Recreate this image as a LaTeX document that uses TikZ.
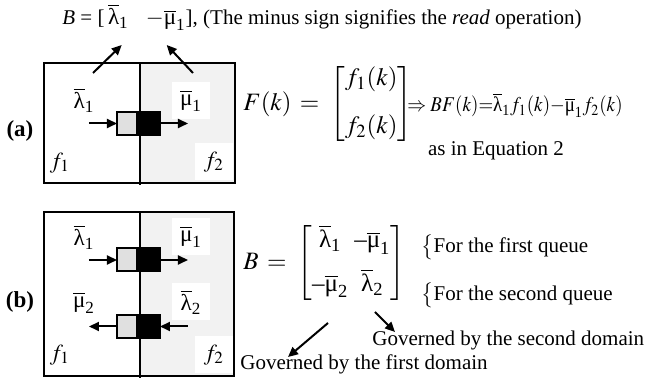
\documentclass[tikz,border=0pt]{standalone}
\usepackage{amsmath}
\usepackage{mathptmx}
\usepackage{fontspec}
\setmainfont{Liberation Serif}
\usetikzlibrary{arrows.meta}
\newcommand\barlam[1]{\ensuremath{\overline{\text{λ}}_{\text{#1}}}}
\newcommand\barmu[1]{\ensuremath{\overline{\text{μ}}_{\text{#1}}}}
\newcommand\ndash{\text{–}}
\begin{document}
\begin{tikzpicture}[x=0.5pt,y=-0.5pt,>={Triangle[length=5pt,width=4.5pt]},every node/.style={font=\fontsize{10.5}{12.6}\selectfont,inner sep=0pt},frame/.style={line width=1.25pt},half/.style={fill=black!5},patch/.style={fill=white,minimum width=19pt,minimum height=18.5pt},qlight/.style={draw,line width=1pt,fill=black!12,minimum width=10pt,minimum height=11.5pt,outer sep=0pt},qdark/.style={draw,line width=1pt,fill=black,minimum width=11.5pt,minimum height=11.5pt,outer sep=0pt,anchor=west},arr/.style={->,line width=1pt},lbl/.style={font=\fontsize{11.5}{13}\selectfont},big/.style={font=\fontsize{12.5}{15}\selectfont\setlength\arraycolsep{1.5pt},anchor=west}]
\useasboundingbox (0,0) rectangle (650,379);
% (a) one queue
\fill[half] (140,63) rectangle (235,183);
\node[lbl,patch] (ma1) at (191,101) {\barmu1};
\node[lbl,patch] (fa2) at (214,162) {$f_2$};
\draw[frame] (44,63) rectangle (235,183);
\draw[line width=0.75pt] (140,63) -- (140,185);
\node[lbl] (la1) at (84,100) {\barlam1};
\node[lbl] (fa1) at (60,163) {$f_1$};
\node[qlight] (qa1) at (127,123.5) {};
\node[qdark] (qa2) at (qa1.east) {};
\node[font=\fontsize{11.5}{13}\bfseries] (a) at (20,131) {(a)};
% (b) two queues
\fill[half] (140,212) rectangle (234,376);
\node[lbl,patch] (mb1) at (191,237) {\barmu1};
\node[lbl,patch] (lb2) at (191,302) {\barlam2};
\node[lbl,patch] (fb2) at (214,355) {$f_2$};
\draw[frame] (44,212) rectangle (234,376);
\draw[line width=0.75pt] (140,212) -- (140,378);
\node[lbl] (lb1) at (84,237) {\barlam1};
\node[lbl] (mb2) at (84,303) {\barmu2};
\node[lbl] (fb1) at (60,355) {$f_1$};
\node[qlight] (qb1) at (127,260) {};
\node[qdark] (qb2) at (qb1.east) {};
\node[qlight] (qb3) at (127,326.5) {};
\node[qdark] (qb4) at (qb3.east) {};
\node[font=\fontsize{11.5}{13}\bfseries] (b) at (20,302) {(b)};
% free arrow ends
\coordinate (ia) at (89,123.5); \coordinate (oa) at (188,123.5);
\coordinate (ib) at (89,260); \coordinate (ob) at (188,260);
\coordinate (oc) at (89,326.5); \coordinate (ic) at (188,326.5);
\coordinate (s1) at (93,73); \coordinate (t1) at (121.7,45);
\coordinate (s2) at (193,73); \coordinate (t2) at (166.7,45);
\coordinate (s3) at (328,323); \coordinate (t3) at (288,357);
\coordinate (s4) at (375,312); \coordinate (t4) at (395,332);
% texts
\node[anchor=base west] (top) at (62,25) {\textit{B} = [\,{\fontsize{11.5}{13}\selectfont\barlam1\ \ \ $-$\barmu1}], (The minus sign signifies the \textit{read} operation)};
\node[big] (Fk) at (243,104) {$F(k)\,=\;\begin{bmatrix}f_1(k)\\[9pt] f_2(k)\end{bmatrix}$};
\node[anchor=west] (BF) at (407,105) {\scalebox{0.9}[1]{$\Rightarrow BF(k){=}\barlam1f_1(k){-}\barmu1f_2(k)$}};
\node (eq) at (496,151) {as in Equation 2};
\node[big] (Bm) at (243,263) {$B\,=\;\begin{bmatrix}\barlam1 & \ndash\barmu1\\[6pt] \ndash\barmu2 & \barlam2\end{bmatrix}$};
\node[anchor=west] (q1) at (421,247) {$\big\{$For the first queue};
\node[anchor=west] (q2) at (421,295) {$\big\{$For the second queue};
\node[anchor=west] (g2) at (372,340) {Governed by the second domain};
\node[anchor=west] (g1) at (240,364) {Governed by the first domain};
\foreach \p/\q in {ia/qa1.west,qa2.east/oa,ib/qb1.west,qb2.east/ob,qb3.west/oc,ic/qb4.east,s1/t1,s2/t2,s3/t3,s4/t4}{\draw[arr] (\p)--(\q);}
\end{tikzpicture}
\end{document}
